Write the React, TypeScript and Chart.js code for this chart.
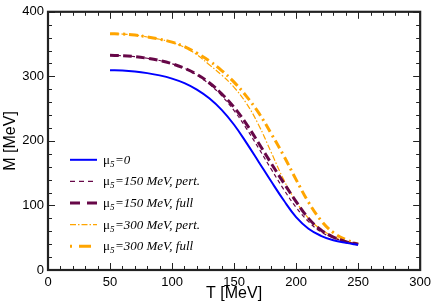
import React, { useEffect, useRef } from "react";
import { Chart, registerables } from "chart.js";

Chart.register(...registerables);

const temperatures = [50, 60, 70, 80, 90, 100, 110, 120, 130, 140, 150, 160, 170, 180, 190, 200, 210, 220, 230, 240, 250];
const mu0 = [309.5, 309, 307.5, 305, 301.5, 296.5, 289.5, 279.5, 266, 248, 225, 197, 167, 137, 108, 82, 64, 53, 46, 42, 39];
const mu150Pert = [332.5, 332, 330.5, 328, 324.5, 319.5, 312.5, 302, 288, 270, 247, 219, 188, 156, 125, 97, 75, 59, 50, 44, 40];
const mu150Full = [332.5, 332, 330.5, 328, 324.5, 319.5, 312.5, 303, 290, 273, 252, 226, 196, 165, 135, 106, 80, 62, 51, 44, 40];
const mu300Pert = [366, 365.5, 364, 361, 357.5, 352.5, 345, 333.5, 318, 302, 283, 258, 224, 182, 140, 106, 80, 63, 52, 45, 40];
const mu300Full = [366, 365.5, 364, 361, 357.5, 353, 346, 336, 324, 309, 291, 269, 243, 211, 177, 140, 105, 77, 58, 47, 40];

const seriesLabels = ["μ5=0", "μ5=150 MeV, pert.", "μ5=150 MeV, full", "μ5=300 MeV, pert.", "μ5=300 MeV, full"];
const seriesValues = [mu0, mu150Pert, mu150Full, mu300Pert, mu300Full];

const xTitle = "T [MeV]";
const yTitle = "M [MeV]";

const BLUE = "rgb(0,0,255)";
const MAROON = "rgb(103,7,72)";
const ORANGE = "rgb(255,165,0)";

const styles = [
  { color: BLUE, width: 2, dash: [] as number[], legendDash: [] as number[] },
  { color: MAROON, width: 1.2, dash: [4, 3], legendDash: [5, 4] },
  { color: MAROON, width: 3, dash: [9, 4], legendDash: [10, 7] },
  { color: ORANGE, width: 1.2, dash: [6, 2, 1.5, 2], legendDash: [6, 2, 1.5, 2] },
  { color: ORANGE, width: 3, dash: [9, 4, 2, 4], legendDash: [2, 7, 12, 7] },
];

const frameTicksPlugin = {
  id: "frameTicks",
  afterDraw(chart: any) {
    const { ctx, chartArea } = chart;
    const { left, right, top, bottom } = chartArea;
    const xs = chart.scales.x;
    const ys = chart.scales.y;
    ctx.save();
    ctx.strokeStyle = "#222";
    ctx.lineWidth = 1;
    ctx.beginPath();
    for (let v = 0; v <= 300; v += 10) {
      const px = Math.round(xs.getPixelForValue(v)) + 0.5;
      const len = v % 50 === 0 ? 7 : 4;
      ctx.moveTo(px, bottom);
      ctx.lineTo(px, bottom - len);
      ctx.moveTo(px, top);
      ctx.lineTo(px, top + len);
    }
    for (let v = 0; v <= 400; v += 20) {
      const py = Math.round(ys.getPixelForValue(v)) + 0.5;
      const len = v % 100 === 0 ? 7 : 4;
      ctx.moveTo(left, py);
      ctx.lineTo(left + len, py);
      ctx.moveTo(right, py);
      ctx.lineTo(right - len, py);
    }
    ctx.stroke();
    ctx.lineWidth = 2.2;
    ctx.strokeStyle = "#222";
    ctx.strokeRect(left, top, right - left, bottom - top);
    ctx.restore();
  },
};

const legendPlugin = {
  id: "customLegend",
  afterDraw(chart: any) {
    const { ctx, chartArea } = chart;
    const x0 = chartArea.left + 22;
    const x1 = chartArea.left + 49;
    const tx = chartArea.left + 55;
    ctx.save();
    chart.data.datasets.forEach((ds: any, i: number) => {
      const y = chartArea.top + 148 + i * 21.6;
      const st = styles[i];
      ctx.strokeStyle = st.color;
      ctx.lineWidth = st.width;
      ctx.setLineDash(st.legendDash);
      ctx.beginPath();
      ctx.moveTo(x0, y);
      ctx.lineTo(x1, y);
      ctx.stroke();
      ctx.setLineDash([]);
      const label: string = ds.label;
      const greek = label.slice(0, 1);
      const sub = label.slice(1, 2);
      const rest = label.slice(2);
      ctx.fillStyle = "#000";
      ctx.textBaseline = "alphabetic";
      const base = y + 4;
      ctx.font = '13px "Liberation Serif"';
      ctx.fillText(greek, tx, base);
      let cx = tx + ctx.measureText(greek).width;
      ctx.font = 'italic 9px "Liberation Serif"';
      ctx.fillText(sub, cx, base + 3);
      cx += ctx.measureText(sub).width + 0.5;
      ctx.font = 'italic 13px "Liberation Serif"';
      ctx.fillText(rest, cx, base);
    });
    ctx.restore();
  },
};

export default function App() {
  const canvasRef = useRef<HTMLCanvasElement | null>(null);

  useEffect(() => {
    if (!canvasRef.current) return;
    const datasets = seriesValues.map((vals, i) => ({
      label: seriesLabels[i],
      data: temperatures.map((t, j) => ({ x: t, y: vals[j] })),
      borderColor: styles[i].color,
      borderWidth: styles[i].width,
      borderDash: styles[i].dash,
      pointRadius: 0,
      fill: false,
      tension: 0.4,
    }));
    const chart = new Chart(canvasRef.current, {
      type: "line",
      data: { datasets },
      options: {
        responsive: false,
        animation: false,
        devicePixelRatio: 1,
        layout: { padding: { top: 5, right: 13, bottom: 0, left: 0 } },
        plugins: { legend: { display: false }, tooltip: { enabled: false } },
        scales: {
          x: {
            type: "linear",
            min: 0,
            max: 300,
            grid: { display: false, drawTicks: false },
            border: { display: false },
            ticks: {
              stepSize: 50,
              padding: 5,
              color: "#000",
              font: { family: '"Liberation Sans"', size: 13 },
              maxRotation: 0,
            },
            title: {
              display: true,
              text: xTitle,
              color: "#000",
              font: { family: '"Liberation Sans"', size: 16 },
              padding: { top: 0, bottom: 2 },
            },
            afterFit(scale: any) {
              scale.height = 35;
            },
          },
          y: {
            type: "linear",
            min: 0,
            max: 400,
            grid: { display: false, drawTicks: false },
            border: { display: false },
            ticks: {
              stepSize: 100,
              padding: 4,
              color: "#000",
              font: { family: '"Liberation Sans"', size: 13 },
            },
            title: {
              display: true,
              text: yTitle,
              color: "#000",
              font: { family: '"Liberation Sans"', size: 16 },
              padding: { top: 1, bottom: 0 },
            },
            afterFit(scale: any) {
              scale.width = 48;
            },
          },
        },
      },
      plugins: [frameTicksPlugin, legendPlugin],
    });
    return () => chart.destroy();
  }, []);

  return (
    <div style={{ position: "fixed", left: 0, top: 0, width: 436, height: 305, background: "#fff" }}>
      <canvas ref={canvasRef} width={436} height={305} style={{ display: "block" }} />
    </div>
  );
}
